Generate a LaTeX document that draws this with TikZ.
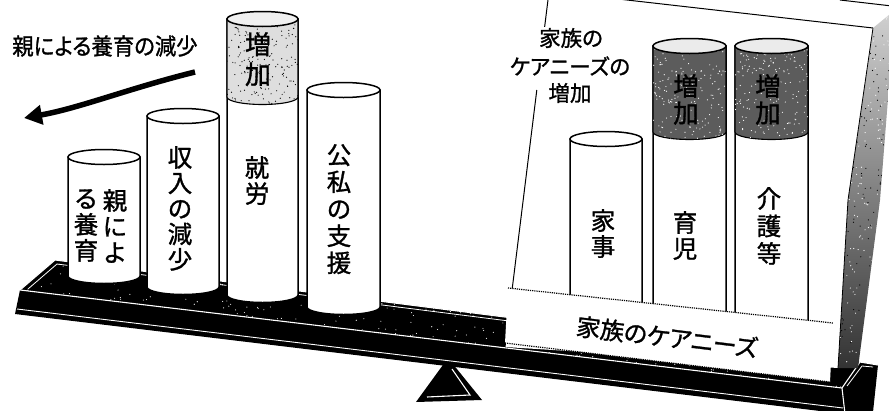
\documentclass[tikz,border=0pt]{standalone}
\usepackage{fontspec}
\newfontfamily\jp[FakeBold=1.2]{Noto Sans CJK JP}
\newfontfamily\jpp[CharacterWidth=AlternateProportional,FakeBold=1.2]{Noto Sans CJK JP}
\usetikzlibrary{arrows.meta}
\tikzset{
  cylbody/.style={fill=white,draw=black,line width=1.5pt},
  vtext/.style={font=\jp\fontsize{24.5}{26}\selectfont,align=center,inner sep=0pt,anchor=north},
  hlabel/.style={font=\jpp\fontsize{21.5}{27}\selectfont,inner sep=1pt},
  whiteline/.style={draw=white,line width=1.1pt},
}
\newcommand\mycyl[5]{%
  \pgfmathsetmacro\crx{(#3-#2)/2}%
  \pgfmathsetmacro\ccx{(#3+#2)/2}%
  \path[cylbody] (#2,#4) -- (#2,#5) arc[start angle=180,end angle=360,x radius=\crx pt,y radius=7.5pt] -- (#3,#4) -- cycle;
  \coordinate (#1) at (\ccx,#4);
}
\newcommand\mycyltop[3]{% name, rx, style
  \path[cylbody,#3] (#1) ellipse[x radius=#2 pt,y radius=7.5pt];
}
\newcommand\myband[6]{% left right topcy bandcy fill specks-color
  \pgfmathsetmacro\brx{(#2-#1)/2}%
  \path[fill=#5,draw=black,line width=1.1pt] (#1,#3) -- (#1,#4) arc[start angle=180,end angle=360,x radius=\brx pt,y radius=7.5pt] -- (#2,#3) -- cycle;
  \begin{scope}
    \clip (#1,#3) -- (#1,#4) arc[start angle=180,end angle=360,x radius=\brx pt,y radius=7.5pt] -- (#2,#3) -- cycle;
    \foreach \k in {1,...,180}{\fill[#6] ({#1+rnd*(#2-#1)},{#3+rnd*(#4-#3+8)}) circle[radius=0.6pt];}
  \end{scope}
}
\begin{document}
\begin{tikzpicture}[x=1pt,y=-1pt]
\useasboundingbox (0,0) rectangle (889,410);
\clip (0,0) rectangle (889,410);
\fill[white] (0,0) rectangle (889,410);
\pgfmathsetseed{17}

% fulcrum
\fill[black] (448,358) -- (416,402) -- (482,400) -- cycle;
\draw[whiteline] (452,369) -- (470,395) -- (427,397);

% beam top face
\fill[black] (20,290) -- (55,260) -- (860,362) -- (842,388) -- cycle;
\begin{scope}
  \clip (20,290) -- (55,260) -- (860,362) -- (842,388) -- cycle;
  \foreach \k in {1,...,260}{\pgfmathsetmacro\u{rnd}\pgfmathsetmacro\v{rnd}
    \fill[white] ({20+\u*822+\v*35},{290+\u*100-\v*30}) circle[radius=0.55pt];}
\end{scope}
\draw[whiteline] (20,290) -- (55,260) -- (860,362);
\draw[whiteline,line width=0.8pt] (28,289) -- (57,264) -- (850,364);
% beam front face
\fill[black] (20,290) -- (842,388) -- (845,414) -- (15,314) -- cycle;
\draw[whiteline] (20,290) -- (842,388);
\draw[whiteline,line width=0.9pt] (17,309) -- (843,408);
% right end
\fill[black] (842,388) -- (860,362) -- (878,365) -- (873,412) -- (845,414) -- cycle;
\draw[whiteline] (842,388) -- (860,362) -- (878,365);
\draw[whiteline,line width=0.8pt] (847,386) -- (862,366) -- (873,367);
\draw[whiteline] (842,388) -- (845,414);

% left cylinders
\mycyl{c1}{68}{140}{157}{276}
\mycyltop{c1}{36}{}
\mycyl{c2}{147}{219}{116}{287}
\mycyltop{c2}{36}{}
\mycyl{c3}{227}{298}{19}{295}
\myband{227}{298}{19}{97}{black!13}{black}
\mycyltop{c3}{35.5}{fill=black!6}
\mycyl{c4}{307}{380}{90}{307}
\mycyltop{c4}{36.5}{}

\node[vtext] (t1a) at (115,189) {親\\に\\よ};
\node[vtext] (t1b) at (86,189) {る\\養\\育};
\node[vtext,font=\jp\fontsize{24.5}{25.5}\selectfont] (t2) at (180,146) {収\\入\\の\\減\\少};
\node[vtext,font=\jp\fontsize{26}{30}\selectfont] (t3a) at (258,32) {増\\加};
\node[vtext] (t3b) at (257,156) {就\\労};
\node[vtext,font=\jp\fontsize{24.5}{27}\selectfont] (t4) at (339,144) {公\\私\\の\\支\\援};

% right panel
\fill[white] (548.6,-5) -- (583,-5) -- (873,28) -- (848,200) -- (838,368) -- (505,347) -- cycle;
\draw[line width=1pt] (548.6,-5) -- (544,32);
\draw[line width=1pt] (536.8,90) -- (505,347);
\draw[line width=1pt] (583,-5) -- (873,28);
\draw[line width=1pt] (840,0) -- (892,6);
% panel thickness strip
\shade[top color=black!18,bottom color=black!80] (873,28) -- (895,10) -- (880,200) -- (858,368) -- (838,368) -- (848,200) -- cycle;
\begin{scope}
  \clip (873,28) -- (895,10) -- (880,200) -- (858,368) -- (838,368) -- (848,200) -- cycle;
  \foreach \k in {1,...,220}{\fill[white] ({835+rnd*60},{10+rnd*360}) circle[radius=0.6pt];}
  \foreach \k in {1,...,160}{\fill[black] ({835+rnd*60},{10+rnd*360}) circle[radius=0.6pt];}
\end{scope}
\draw[line width=0.8pt] (873,28) -- (848,200) -- (838,368);

% right cylinders
\mycyl{c5}{570}{642}{139}{330}
\mycyltop{c5}{36}{}
\mycyl{c6}{653}{726}{46}{330}
\myband{653}{726}{46}{132}{black!64}{white}
\mycyltop{c6}{36.5}{fill=black!8}
\mycyl{c7}{735}{808}{46}{330}
\myband{735}{808}{46}{132}{black!64}{white}
\mycyltop{c7}{36.5}{fill=black!8}

\node[vtext] (t5) at (603,209) {家\\事};
\node[vtext,font=\jp\fontsize{25.5}{27}\selectfont] (t6a) at (686,74) {増\\加};
\node[vtext] (t6b) at (685,211) {育\\児};
\node[vtext,font=\jp\fontsize{25.5}{27}\selectfont] (t7a) at (768,74) {増\\加};
\node[vtext,font=\jp\fontsize{24.5}{27.5}\selectfont] (t7b) at (769,187) {介\\護\\等};

% label strip
\fill[white] (508,288) -- (833,323) -- (830,382) -- (505,343) -- cycle;
\draw[line width=1.2pt,densely dotted] (508,288) -- (833,323);
\draw[line width=1.2pt,densely dotted] (505,343) -- (830,382);
\node[font=\jpp\fontsize{24}{27}\selectfont,rotate=-7,inner sep=0pt] (lbl3) at (667,337) {家族のケアニーズ};

% labels
\node[hlabel,font=\jpp\fontsize{23}{27}\selectfont,xscale=0.93] (lbl1) at (105,46) {親による養育の減少};
\node[hlabel,fill=white] (lbl2a) at (571,38) {家族の};
\node[hlabel,fill=white] (lbl2b) at (570,66) {ケアニーズの};
\node[hlabel,fill=white] (lbl2c) at (570,93) {増加};

% arrow
\coordinate (a1) at (195,72);
\coordinate (a2) at (24,118);
\draw[line width=5.5pt,-{Triangle[length=18pt,width=19pt]}] (a1) .. controls (130,88) and (80,108) .. (a2);
\end{tikzpicture}
\end{document}
